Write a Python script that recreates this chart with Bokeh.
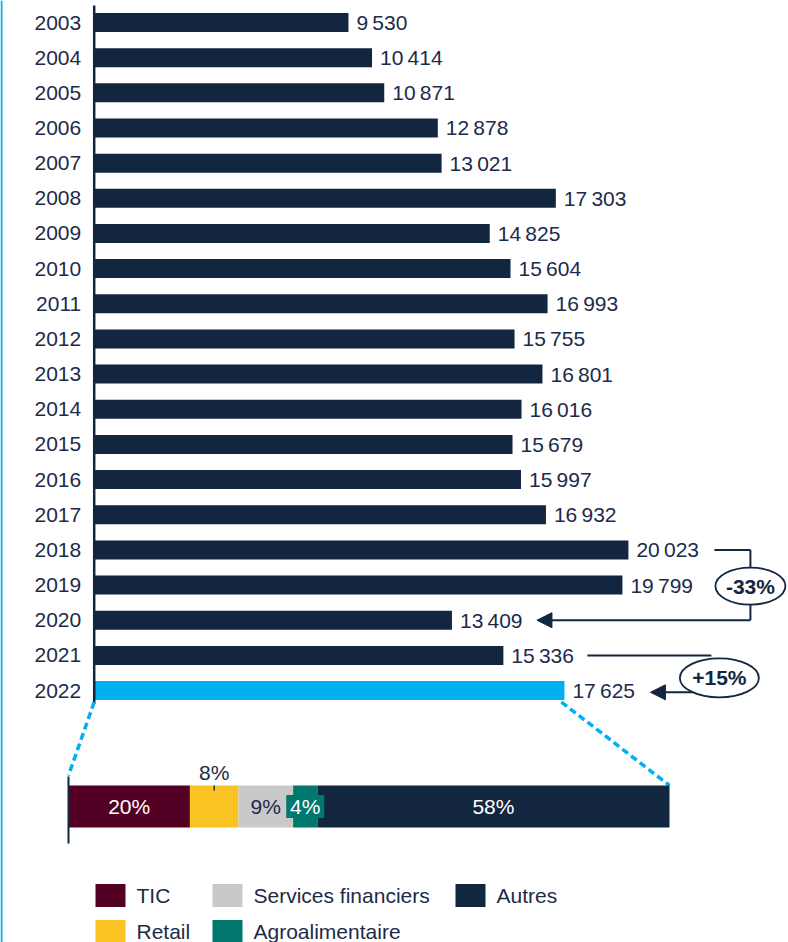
from bokeh.plotting import figure
from bokeh.models import Range1d, Arrow, NormalHead
from bokeh.embed import file_html
from bokeh.resources import INLINE
from bokeh.core.properties import value

# ---------------- data ----------------
years = [2003, 2004, 2005, 2006, 2007, 2008, 2009, 2010, 2011, 2012,
         2013, 2014, 2015, 2016, 2017, 2018, 2019, 2020, 2021, 2022]
values = [9530, 10414, 10871, 12878, 13021, 17303, 14825, 15604, 16993, 15755,
          16801, 16016, 15679, 15997, 16932, 20023, 19799, 13409, 15336, 17625]
highlight_year = 2022

sectors = ["TIC", "Retail", "Services financiers", "Agroalimentaire", "Autres"]
shares = [20, 8, 9, 4, 58]
share_labels = ["20%", "8%", "9%", "4%", "58%"]

change_a = ("-33%", 2018, 2020)
change_b = ("+15%", 2021, 2022)

# ---------------- styles ----------------
NAVY = "#13263f"
TEXT = "#1c2b4a"
LIGHTBLUE = "#00b0f0"
sector_colors = ["#540024", "#f8c323", "#c9c9c9", "#00786e", "#13263f"]
label_style = ["in", "above", "in", "boxed", "in"]
label_colors = ["white", TEXT, TEXT, "white", "white"]
legend_cells = [(0, 0), (0, 1), (1, 0), (1, 1), (2, 0)]
FONT = value("Liberation Sans")
FS = "21px"

W, H = 788, 942
k = 0.02668          # px per unit
zero_fx = 93.7
X0, X1 = -zero_fx / k, (W - zero_fx) / k
row_px = 35.16
row0_fy = 22.0
Y_TOP, Y_BOT = -row0_fy / row_px, (H - row0_fy) / row_px
total_share = sum(shares)
sk = 601.0 / total_share
s0_fx = 68.0
S0, S1 = -s0_fx / sk, (W - s0_fx) / sk
U = 1.0 / k


def fx_to_x(fx):
    return X0 + fx / W * (X1 - X0)


def fy_to_y(fy):
    return Y_TOP + fy / H * (Y_BOT - Y_TOP)


def share_to_x(s):
    return X0 + (s - S0) / (S1 - S0) * (X1 - X0)


def fmt(v):
    return f"{v:,}".replace(",", "\u202f")


p = figure(width=W, height=H, x_range=Range1d(X0, X1), y_range=Range1d(Y_BOT, Y_TOP),
           output_backend="svg", toolbar_location=None,
           x_axis_type=None, y_axis_type=None, min_border=0)
p.outline_line_color = None
p.extra_x_ranges = {"share": Range1d(S0, S1)}

rows = list(range(len(years)))
bar_colors = [LIGHTBLUE if y == highlight_year else NAVY for y in years]
bar_h = 19.0 / row_px

# left border line
p.segment(x0=[fx_to_x(1)], x1=[fx_to_x(1)], y0=[Y_TOP], y1=[Y_BOT],
          line_color=LIGHTBLUE, line_width=2)

# bars
p.hbar(y=rows, left=0, right=values, height=bar_h, fill_color=bar_colors, line_color=None)

# axis line
bottom_row = rows[-1] + bar_h / 2 + 4 / row_px
p.segment(x0=[0], x1=[0], y0=[fy_to_y(5)], y1=[bottom_row], line_color=NAVY, line_width=2.5)

# year labels + value labels
p.text(x=[0] * len(years), y=rows, text=[str(y) for y in years], x_offset=-13,
       text_align="right", text_baseline="middle", text_font=FONT,
       text_font_size=FS, text_color=TEXT)
p.text(x=values, y=rows, text=[fmt(v) for v in values], x_offset=8,
       text_align="left", text_baseline="middle", text_font=FONT,
       text_font_size=FS, text_color=TEXT)

# ---------------- stacked share bar ----------------
stack_y = fy_to_y(806)
stack_h = 42.0 / row_px
lefts, rights = [], []
acc = 0
for s in shares:
    lefts.append(acc)
    acc += s
    rights.append(acc)
centers = [(a + b) / 2 for a, b in zip(lefts, rights)]

# dashed connectors
hl = years.index(highlight_year)
p.segment(x0=[0, values[hl] - 3 * U], y0=[bottom_row - 2 / row_px] * 2,
          x1=[share_to_x(0), share_to_x(total_share)],
          y1=[stack_y - stack_h / 2 - 10 / row_px, stack_y - stack_h / 2],
          line_color=LIGHTBLUE, line_width=3.5, line_dash="7 4")

p.hbar(y=stack_y, left=lefts, right=rights, height=stack_h, fill_color=sector_colors,
       line_color=None, x_range_name="share")
p.segment(x0=[0], x1=[0], y0=[stack_y - stack_h / 2 - 9 / row_px],
          y1=[stack_y + stack_h / 2 + 16 / row_px], line_color=NAVY, line_width=2,
          x_range_name="share")

for i, st in enumerate(label_style):
    if st == "in":
        p.text(x=[centers[i]], y=[stack_y], text=[share_labels[i]], text_align="center",
               text_baseline="middle", text_font=FONT, text_font_size=FS,
               text_color=label_colors[i], x_range_name="share")
    elif st == "boxed":
        p.rect(x=[centers[i]], y=[stack_y], width=38, height=23, width_units="screen",
               height_units="screen", fill_color=sector_colors[i], line_color=None,
               x_range_name="share")
        p.text(x=[centers[i]], y=[stack_y], text=[share_labels[i]], text_align="center",
               text_baseline="middle", text_font=FONT, text_font_size=FS,
               text_color=label_colors[i], x_range_name="share")
    else:
        top = stack_y - stack_h / 2
        p.segment(x0=[centers[i]], x1=[centers[i]], y0=[top], y1=[top + 5 / row_px],
                  line_color=TEXT, line_width=1.5, x_range_name="share")
        p.text(x=[centers[i]], y=[top - 13 / row_px], text=[share_labels[i]],
               text_align="center", text_baseline="middle", text_font=FONT,
               text_font_size=FS, text_color=label_colors[i], x_range_name="share")

# ---------------- change annotations ----------------
head = dict(size=15, fill_color=NAVY, line_color=NAVY)

# -33%: bracket from 2018 to 2020
lab, ya, yb = change_a
ia, ib = years.index(ya), years.index(yb)
im = (ia + ib) / 2
bx = values[ia] + 122 * U
p.segment(x0=[values[ia] + 86 * U, bx], y0=[ia, ia], x1=[bx, bx], y1=[ia, ib],
          line_color=NAVY, line_width=2)
p.add_layout(Arrow(end=NormalHead(**head), x_start=bx, y_start=ib,
                   x_end=values[ib] + 85 * U, y_end=ib, line_color=NAVY, line_width=2))
p.ellipse(x=[bx], y=[im + 0.03], width=70, height=37, width_units="screen",
          height_units="screen", fill_color="white", line_color=NAVY, line_width=1.8)
p.text(x=[bx], y=[im + 0.03], text=[lab], text_align="center", text_baseline="middle",
       text_font=FONT, text_font_size=FS, text_font_style="bold", text_color=NAVY)

# +15%: from 2021 to 2022
lab, ya, yb = change_b
ia, ib = years.index(ya), years.index(yb)
ex = values[ia] + 216 * U
ey = ia + 0.64
p.segment(x0=[values[ia] + 84 * U], y0=[ia], x1=[ex - 8 * U], y1=[ia],
          line_color=NAVY, line_width=2)
p.add_layout(Arrow(end=NormalHead(**head), x_start=ex - 26 * U, y_start=ib + 0.05,
                   x_end=values[ib] + 86 * U, y_end=ib + 0.05, line_color=NAVY,
                   line_width=2))
p.ellipse(x=[ex], y=[ey], width=79, height=39, width_units="screen",
          height_units="screen", fill_color=None, line_color=NAVY, line_width=1.8)
p.text(x=[ex], y=[ey], text=[lab], text_align="center", text_baseline="middle",
       text_font=FONT, text_font_size=FS, text_font_style="bold", text_color=NAVY)

# ---------------- legend ----------------
col_fx = [95, 212, 455]
row_fy = [895, 931]
sq_w, sq_h = 30, 23
for i, name in enumerate(sectors):
    c, r = legend_cells[i]
    yc = fy_to_y(row_fy[r])
    p.rect(x=[fx_to_x(col_fx[c] + sq_w / 2)], y=[yc], width=sq_w, height=sq_h,
           width_units="screen", height_units="screen", fill_color=sector_colors[i],
           line_color=None)
    p.text(x=[fx_to_x(col_fx[c] + 41)], y=[yc], text=[name], text_align="left",
           text_baseline="middle", text_font=FONT, text_font_size=FS, text_color=TEXT)

open("out.html", "w").write(file_html(p, INLINE))
